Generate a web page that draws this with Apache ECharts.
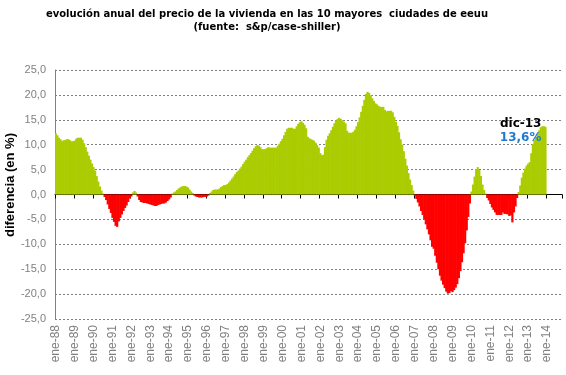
<!DOCTYPE html>
<html>
<head>
<meta charset="utf-8">
<script src="https://cdn.jsdelivr.net/npm/echarts@6/dist/echarts.min.js"></script>
<style>
  html, body { margin: 0; padding: 0; background: #fff; }
  #chart { width: 566px; height: 375px; }
</style>
</head>
<body>
<div id="chart"></div>
<script>
// meses y años del eje de categorías (ene-88 ... oct-14)
const monthNames = ['ene', 'feb', 'mar', 'abr', 'may', 'jun', 'jul', 'ago', 'sep', 'oct', 'nov', 'dic']
const years = ['88', '89', '90', '91', '92', '93', '94', '95', '96', '97', '98', '99', '00',
  '01', '02', '03', '04', '05', '06', '07', '08', '09', '10', '11', '12', '13', '14']
const categoryCount = 322

// variación interanual (%) del índice case-shiller 10 ciudades, mensual desde ene-88
const yoy = [
  12.3, 11.9, 11.4, 11.1, 10.7, 10.9, 10.9, 11.1, 11.1, 10.9, 10.7, 10.7, // 1988
  10.8, 11.2, 11.4, 11.4, 11.4, 11.0, 10.3, 9.5, 8.6, 7.8, 7.0, 6.2,      // 1989
  5.5, 4.8, 3.7, 2.6, 1.6, 0.8, 0.2, -0.5, -1.1, -2.0, -2.9, -3.7,        // 1990
  -4.7, -5.5, -6.3, -6.5, -5.4, -4.7, -4.0, -3.3, -2.7, -2.2, -1.5, -0.8, // 1991
  -0.4, 0.4, 0.7, 0.4, -0.4, -1.1, -1.5, -1.6, -1.7, -1.7, -1.8, -1.9,    // 1992
  -2.0, -2.1, -2.2, -2.3, -2.3, -2.1, -2.0, -1.9, -1.8, -1.8, -1.6, -1.3, // 1993
  -1.0, -0.6, 0.2, 0.4, 0.6, 0.9, 1.2, 1.4, 1.6, 1.7, 1.7, 1.6,          // 1994
  1.4, 1.0, 0.6, 0.3, -0.2, -0.4, -0.5, -0.6, -0.6, -0.6, -0.5, -0.5,    // 1995
  -0.4, -0.2, 0.3, 0.6, 0.9, 1.0, 1.0, 1.0, 1.2, 1.5, 1.7, 1.9,          // 1996
  1.9, 2.1, 2.4, 2.8, 3.2, 3.6, 4.1, 4.5, 4.8, 5.2, 5.6, 6.1,            // 1997
  6.6, 7.0, 7.5, 7.9, 8.3, 8.8, 9.3, 9.7, 9.9, 9.8, 9.5, 9.1,            // 1998
  9.1, 9.1, 9.3, 9.5, 9.4, 9.4, 9.4, 9.4, 9.4, 9.8, 10.2, 10.7,          // 1999
  11.2, 11.9, 12.6, 13.2, 13.4, 13.4, 13.4, 13.2, 13.2, 13.7, 14.2, 14.5, // 2000
  14.7, 14.4, 14.0, 13.3, 11.6, 11.3, 11.1, 11.0, 10.8, 10.4, 9.9, 9.4,  // 2001
  8.3, 7.9, 8.0, 9.5, 11.0, 11.8, 12.3, 12.9, 13.6, 14.3, 14.9, 15.2,    // 2002
  15.4, 15.2, 14.9, 14.6, 14.3, 12.8, 12.4, 12.4, 12.4, 12.6, 13.0, 13.7, // 2003
  14.5, 15.5, 16.6, 17.8, 19.0, 20.2, 20.6, 20.4, 19.9, 19.3, 18.8, 18.3, // 2004
  18.1, 17.8, 17.6, 17.6, 17.6, 17.0, 16.7, 16.8, 16.8, 16.8, 16.5, 15.6, // 2005
  14.6, 13.8, 12.5, 11.1, 10.0, 8.7, 7.2, 5.8, 4.3, 3.0, 1.9, 0.8,       // 2006
  -0.3, -0.9, -1.6, -2.4, -3.3, -4.1, -5.0, -6.0, -7.0, -8.0, -9.2, -10.5, // 2007
  -10.9, -12.3, -13.7, -15.0, -16.3, -17.3, -18.1, -18.8, -19.5, -19.9, -19.8, -19.4, // 2008
  -19.6, -19.2, -18.7, -18.0, -16.8, -15.4, -13.6, -11.8, -9.8, -7.2, -4.5, -1.8, // 2009
  0.6, 2.0, 3.6, 5.1, 5.5, 4.9, 3.7, 2.0, 0.9, 0.2, -0.7, -1.2,          // 2010
  -1.9, -2.6, -3.1, -3.6, -4.1, -4.1, -4.1, -4.1, -3.6, -3.9, -3.9, -4.0, // 2011
  -4.3, -4.2, -5.6, -3.6, -2.4, -0.7, 0.5, 1.8, 3.4, 4.4, 5.2, 5.8,      // 2012
  6.2, 6.5, 8.3, 10.1, 10.9, 11.5, 12.2, 12.9, 13.5, 13.7, 13.7, 13.6    // 2013
]

const yTicks = [-25, -20, -15, -10, -5, 0, 5, 10, 15, 20, 25]
const lastLabel = 'dic-13'
const lastValue = 13.6

const GREEN = '#aacc00'
const RED = '#ff0000'
const GRAY = '#808080'

const categories = []
for (let i = 0; i < categoryCount; i++) {
  categories.push(monthNames[i % 12] + '-' + years[Math.floor(i / 12)])
}

const chart = echarts.init(document.getElementById('chart'))

const option = {
  backgroundColor: '#ffffff',
  animation: false,
  title: {
    text: 'evolución anual del precio de la vivienda en las 10 mayores  ciudades de eeuu\n(fuente:  s&p/case-shiller)',
    left: 267,
    top: 0,
    padding: [8, 0, 0, 0],
    textAlign: 'center',
    textStyle: {
      fontFamily: 'DejaVu Sans',
      fontWeight: 'bold',
      fontSize: 10,
      lineHeight: 13,
      color: '#000'
    }
  },
  grid: {
    left: 55,
    right: 4,
    top: 70,
    bottom: 56,
    containLabel: false,
    outerBoundsMode: 'none'
  },
  xAxis: [
    {
      // etiquetas abajo
      type: 'category',
      data: categories,
      position: 'bottom',
      boundaryGap: true,
      axisLine: { show: false, onZero: false },
      axisTick: { show: false },
      splitLine: { show: false },
      axisLabel: {
        interval: 11,
        rotate: 90,
        margin: 6,
        color: GRAY,
        fontFamily: 'Liberation Sans',
        fontSize: 12
      }
    },
    {
      // línea del cero con marcas anuales
      type: 'category',
      data: categories,
      position: 'bottom',
      boundaryGap: true,
      axisLine: { show: true, onZero: true, lineStyle: { color: '#000', width: 1 } },
      axisTick: { show: true, interval: 11, length: 4, lineStyle: { color: '#000', width: 1 } },
      axisLabel: { show: false },
      splitLine: { show: false }
    }
  ],
  yAxis: {
    type: 'value',
    min: yTicks[0],
    max: yTicks[yTicks.length - 1],
    interval: 5,
    name: 'diferencia (en %)',
    nameLocation: 'middle',
    nameGap: 38,
    nameMoveOverlap: false,
    nameTextStyle: {
      fontFamily: 'Liberation Sans',
      fontWeight: 'bold',
      fontSize: 13,
      color: '#000',
      padding: [0, 0, 0, 19]
    },
    axisLine: { show: true, onZero: false, lineStyle: { color: GRAY, width: 1 } },
    axisTick: { show: false },
    axisLabel: {
      margin: 9,
      color: GRAY,
      fontFamily: 'Liberation Sans',
      fontSize: 11,
      formatter: (v) => v.toFixed(1).replace('.', ',')
    },
    splitLine: {
      lineStyle: { color: GRAY, width: 1, type: [2, 2] }
    }
  },
  series: [
    {
      type: 'bar',
      xAxisIndex: 0,
      data: yoy,
      barWidth: '140%',
      itemStyle: {
        color: (p) => (p.value >= 0 ? GREEN : RED)
      },
      markPoint: {
        symbol: 'circle',
        symbolSize: 0,
        silent: true,
        data: [{ coord: [lastLabel, lastValue] }],
        label: {
          show: true,
          position: 'inside',
          align: 'right',
          verticalAlign: 'middle',
          offset: [-4, 4],
          formatter: '{a|' + lastLabel + '}\n{b|' + lastValue.toFixed(1).replace('.', ',') + '%}',
          rich: {
            a: { color: '#000', fontWeight: 'bold', fontSize: 12, fontFamily: 'DejaVu Sans', lineHeight: 14, align: 'right' },
            b: { color: '#1f7bd0', fontWeight: 'bold', fontSize: 12, fontFamily: 'DejaVu Sans', lineHeight: 14, align: 'right' }
          }
        }
      }
    }
  ]
}

chart.setOption(option)
</script>
</body>
</html>
